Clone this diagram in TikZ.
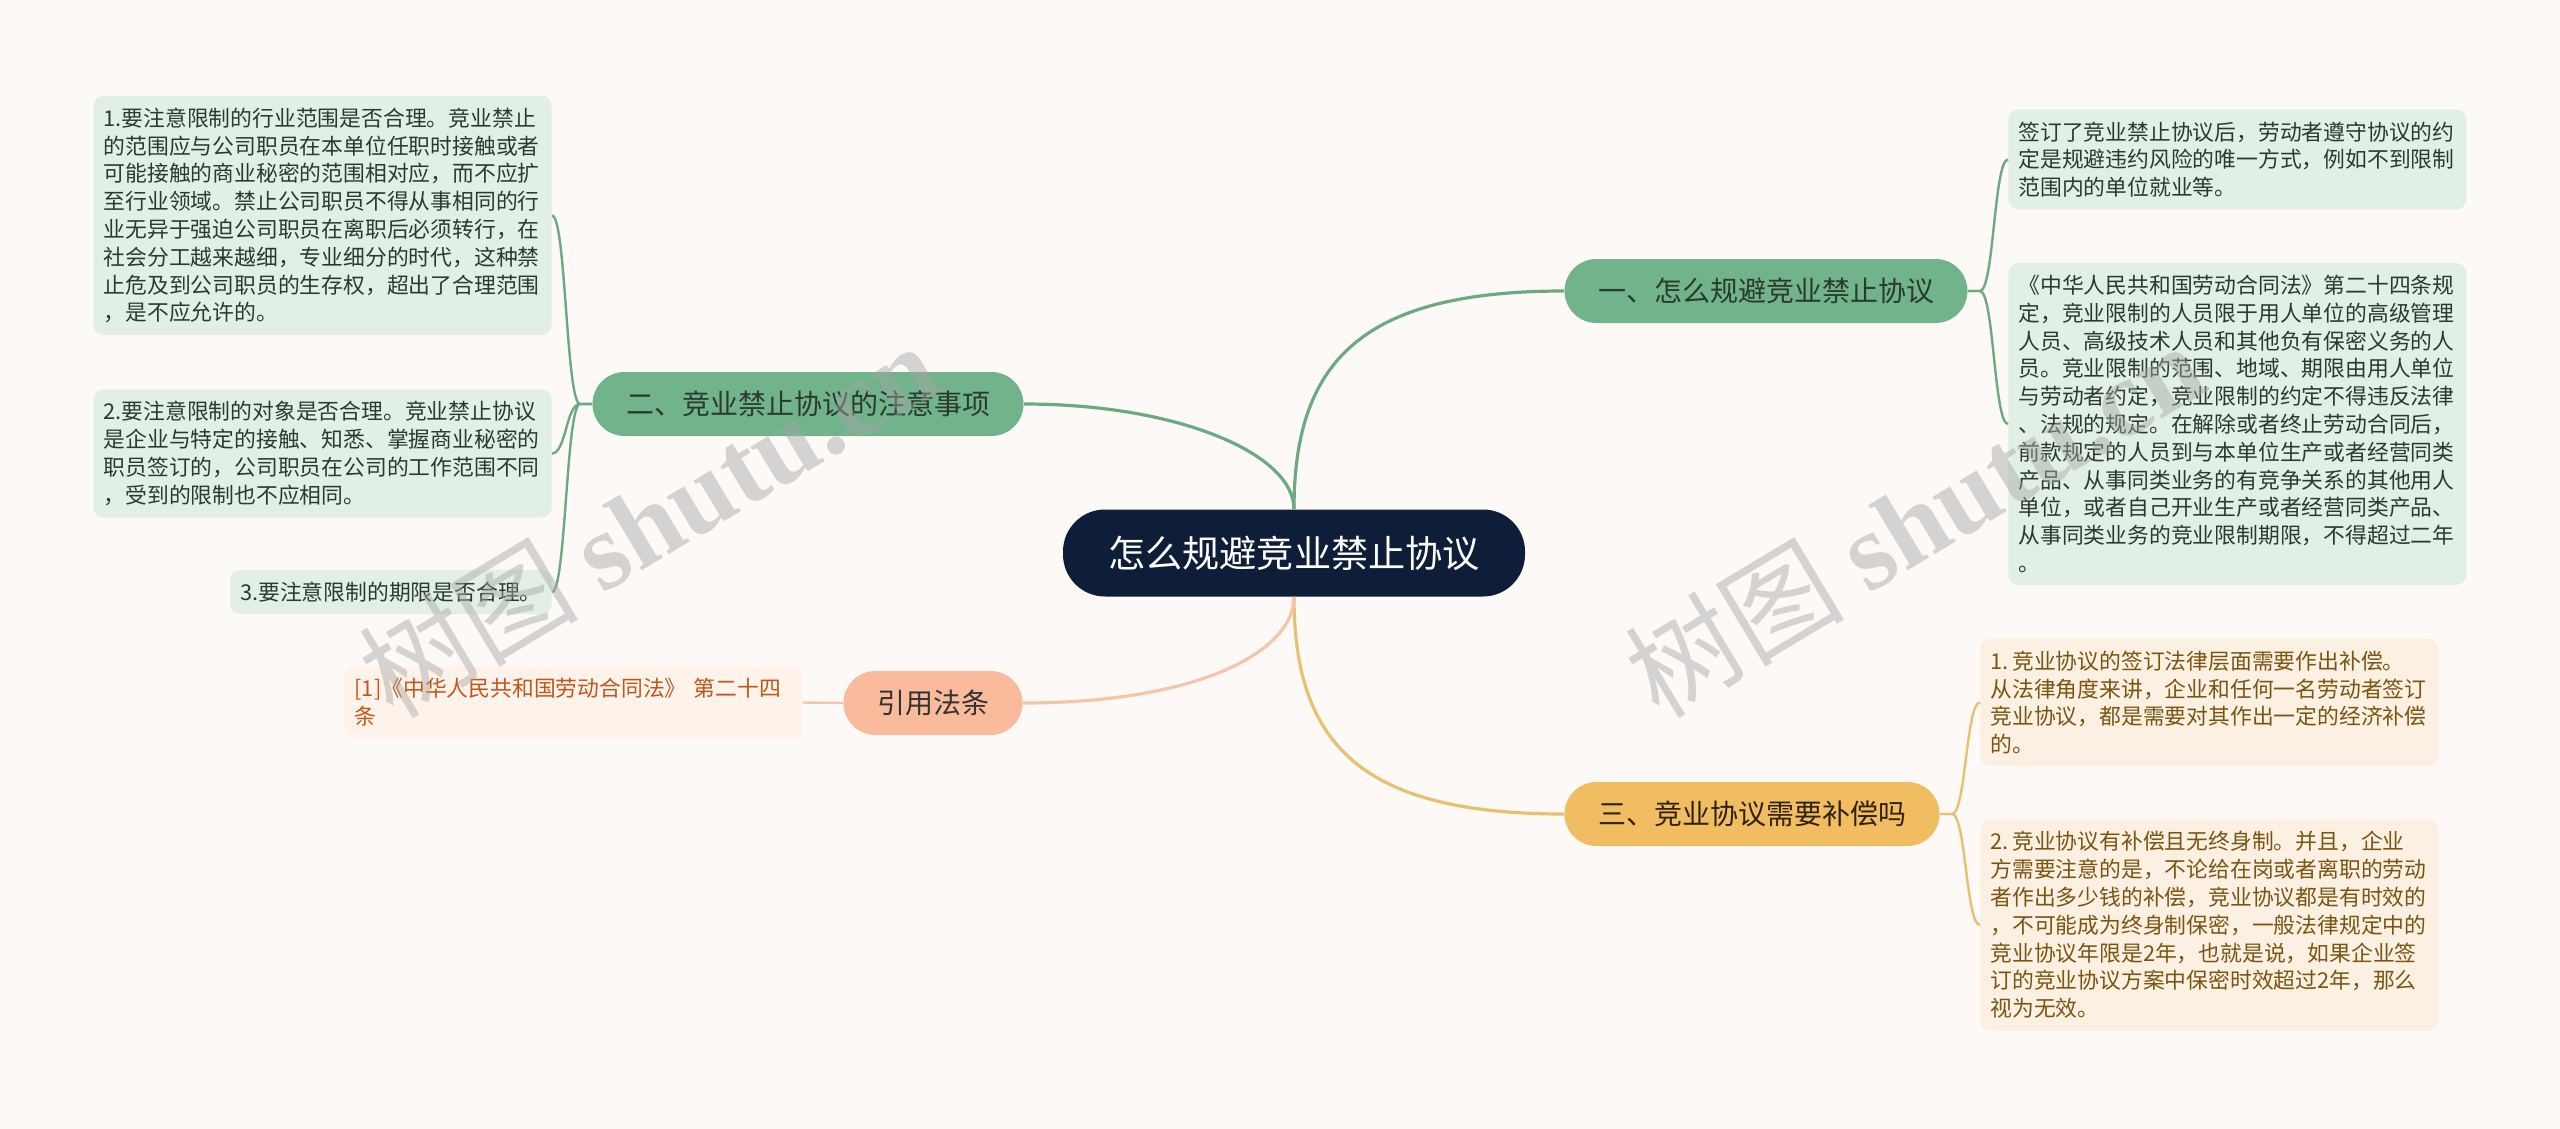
\documentclass[tikz,border=0pt]{standalone}
\usepackage{fontspec}
\setmainfont{Noto Sans CJK SC}
\newfontfamily\wmfont{Liberation Serif}
\definecolor{bgcol}{HTML}{FDF9F7}
\definecolor{rootcol}{HTML}{0E1D38}
\definecolor{greencol}{HTML}{71B38A}
\definecolor{greenline}{HTML}{6DAA82}
\definecolor{greenleaf}{HTML}{E2EFE5}
\definecolor{greentext}{HTML}{2B3A30}
\definecolor{goldcol}{HTML}{F0BD63}
\definecolor{goldline}{HTML}{E8C170}
\definecolor{goldleaf}{HTML}{FBF0E1}
\definecolor{goldtext}{HTML}{7A5512}
\definecolor{peachcol}{HTML}{F9BB9C}
\definecolor{peachline}{HTML}{F5C5AA}
\definecolor{peachleaf}{HTML}{FEF3EB}
\definecolor{peachtext}{HTML}{C1561B}

\begin{document}
\begin{tikzpicture}[x=0.5pt, y=-0.5pt,
    rootnode/.style={rectangle, fill=rootcol, text=white, rounded corners=21pt, minimum height=43.5pt, inner xsep=22.5pt, font=\fontsize{18.6}{22}\selectfont},
    branch/.style={rectangle, fill=#1, rounded corners=16pt, minimum height=32pt, inner xsep=16.75pt, font=\fontsize{14}{17}\selectfont},
    leaf/.style={rectangle, fill=#1, rounded corners=5pt, align=left, inner xsep=5pt, inner ysep=6pt, font=\fontsize{10.9}{13.9}\selectfont},
    wide/.style={text width=219pt},
    trunk/.style={draw=#1, line width=1.6pt},
    twig/.style={draw=#1, line width=1.2pt},
    wmark/.style={text=black!35, opacity=0.45, rotate=31, font=\fontsize{55}{60}\selectfont}
]
\fill[bgcol] (0,0) rectangle (2560,1129);
\useasboundingbox (0,0) rectangle (2560,1129);

% central topic and main branches
\node[rootnode] (root) at (1294,553) {怎么规避竞业禁止协议};
\node[branch=greencol, text=greentext] (avoid) at (1766,291) {一、怎么规避竞业禁止协议};
\node[branch=greencol, text=greentext] (notes) at (808,404) {二、竞业禁止协议的注意事项};
\node[branch=goldcol, text=goldtext!40!black] (comp) at (1752,814) {三、竞业协议需要补偿吗};
\node[branch=peachcol, text=black!80] (law) at (933,703) {引用法条};

\draw[trunk=greenline] (root.north) .. controls +(0,-150) and +(-200,0) .. (avoid.west);
\draw[trunk=greenline] (root.north) .. controls +(0,-55) and +(155,0) .. (notes.east);
\draw[trunk=goldline] (root.south) .. controls +(0,150) and +(-200,0) .. (comp.west);
\draw[trunk=peachline] (root.south) .. controls +(0,55) and +(175,0) .. (law.east);

% branch one
\node[leaf=greenleaf, text=greentext, wide, anchor=west] (avoidA) at (2008,159.5) {签订了竞业禁止协议后，劳动者遵守协议的约\\
定是规避违约风险的唯一方式，例如不到限制\\
范围内的单位就业等。};
\node[leaf=greenleaf, text=greentext, wide, anchor=west] (avoidB) at (2008,424) {《中华人民共和国劳动合同法》第二十四条规\\
定，竞业限制的人员限于用人单位的高级管理\\
人员、高级技术人员和其他负有保密义务的人\\
员。竞业限制的范围、地域、期限由用人单位\\
与劳动者约定，竞业限制的约定不得违反法律\\
、法规的规定。在解除或者终止劳动合同后，\\
前款规定的人员到与本单位生产或者经营同类\\
产品、从事同类业务的有竞争关系的其他用人\\
单位，或者自己开业生产或者经营同类产品、\\
从事同类业务的竞业限制期限，不得超过二年\\
。};
\foreach \leafname in {avoidA,avoidB}
  \draw[twig=greenline] (avoid.east) -- ++(12,0) .. controls +(14,0) and +(-14,0) .. (\leafname.west);

% branch two
\node[leaf=greenleaf, text=greentext, wide, anchor=east] (notesA) at (552,215.5) {1.要注意限制的行业范围是否合理。竞业禁止\\
的范围应与公司职员在本单位任职时接触或者\\
可能接触的商业秘密的范围相对应，而不应扩\\
至行业领域。禁止公司职员不得从事相同的行\\
业无异于强迫公司职员在离职后必须转行，在\\
社会分工越来越细，专业细分的时代，这种禁\\
止危及到公司职员的生存权，超出了合理范围\\
，是不应允许的。};
\node[leaf=greenleaf, text=greentext, wide, anchor=east] (notesB) at (552,453.5) {2.要注意限制的对象是否合理。竞业禁止协议\\
是企业与特定的接触、知悉、掌握商业秘密的\\
职员签订的，公司职员在公司的工作范围不同\\
，受到的限制也不应相同。};
\node[leaf=greenleaf, text=greentext, anchor=east] (notesC) at (552,592) {3.要注意限制的期限是否合理。};
\foreach \leafname in {notesA,notesB,notesC}
  \draw[twig=greenline] (notes.west) -- ++(-12,0) .. controls +(-14,0) and +(14,0) .. (\leafname.east);

% branch three
\node[leaf=goldleaf, text=goldtext, wide, anchor=west] (compA) at (1980,702.5) {1.\,竞业协议的签订法律层面需要作出补偿。\\
从法律角度来讲，企业和任何一名劳动者签订\\
竞业协议，都是需要对其作出一定的经济补偿\\
的。};
\node[leaf=goldleaf, text=goldtext, wide, anchor=west] (compB) at (1980,925) {2.\,竞业协议有补偿且无终身制。并且，企业\\
方需要注意的是，不论给在岗或者离职的劳动\\
者作出多少钱的补偿，竞业协议都是有时效的\\
，不可能成为终身制保密，一般法律规定中的\\
竞业协议年限是2年，也就是说，如果企业签\\
订的竞业协议方案中保密时效超过2年，那么\\
视为无效。};
\foreach \leafname in {compA,compB}
  \draw[twig=goldline] (comp.east) -- ++(12,0) .. controls +(14,0) and +(-14,0) .. (\leafname.west);

% cited law
\node[leaf=peachleaf, text=peachtext, wide, anchor=east] (lawA) at (803,702.5) {[1]《中华人民共和国劳动合同法》 第二十四\\
条};
\draw[twig=peachline] (law.west) -- (lawA.east);

% watermark
\node[wmark] (markL) at (648,519) {树图 {\wmfont\bfseries shutu.cn}};
\node[wmark] (markR) at (1914,519) {树图 {\wmfont\bfseries shutu.cn}};
\end{tikzpicture}
\end{document}
